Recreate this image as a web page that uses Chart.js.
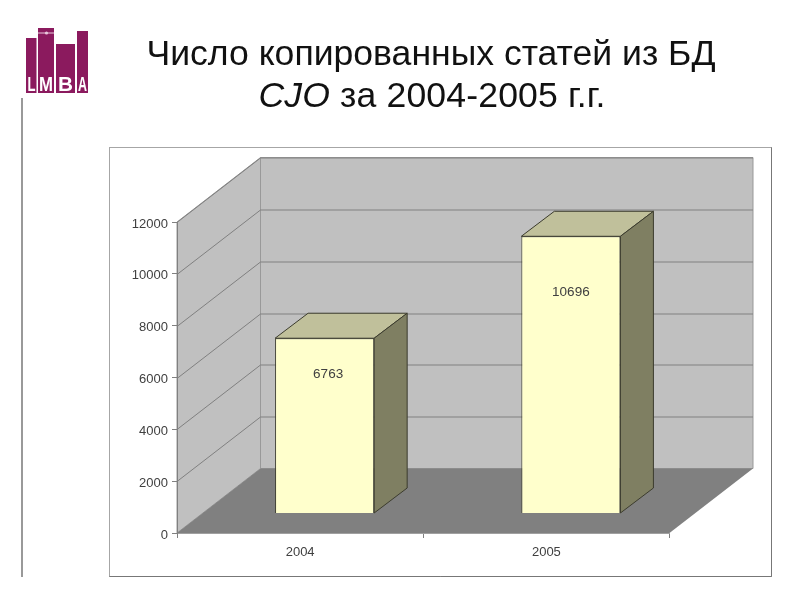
<!DOCTYPE html>
<html lang="ru">
<head>
<meta charset="UTF-8">
<title>Число копированных статей</title>
<script src="https://cdn.jsdelivr.net/npm/chart.js@4"></script>
<style>
    html, body { margin: 0; padding: 0; background: #fff; }
    #page { position: relative; width: 800px; height: 600px; overflow: hidden; }
    #chart { position: absolute; left: 0; top: 0; }
    #title { position: absolute; left: 131px; top: 32px; width: 600px; margin: 0; text-align: center;
             font: normal 35.6px/42px "Liberation Sans", Arial, sans-serif; color: #111; }
    #title span { position: relative; left: 1px; letter-spacing: 0.15px; }
    #rule { position: absolute; left: 21px; top: 98px; width: 2px; height: 479px; background: #999; }
    #logo { position: absolute; left: 0; top: 0; }
</style>
</head>
<body>
<div id="page">
    <canvas id="chart" width="800" height="600"></canvas>
    <h1 id="title">Число копированных статей из БД<br><span><i>CJO</i> за 2004-2005 г.г.</span></h1>
    <div id="rule"></div>
    <svg id="logo" width="100" height="100">
        <g fill="#8b1a5e">
            <rect x="26" y="38" width="10.5" height="55"/>
            <rect x="38" y="28" width="16" height="65"/>
            <rect x="56" y="44" width="19" height="49"/>
            <rect x="77" y="31" width="11" height="62"/>
        </g>
        <rect x="38" y="32.5" width="16" height="1" fill="#e8c8dc"/>
        <circle cx="46.5" cy="33" r="1.6" fill="#e8c8dc"/>
        <g fill="#fff" font-family="Liberation Sans" font-weight="bold" font-size="21">
            <text x="27.5" y="91" textLength="8" lengthAdjust="spacingAndGlyphs">L</text>
            <text x="39" y="91" textLength="14" lengthAdjust="spacingAndGlyphs">M</text>
            <text x="58" y="91" textLength="15" lengthAdjust="spacingAndGlyphs">B</text>
            <text x="78" y="91" textLength="9" lengthAdjust="spacingAndGlyphs">A</text>
        </g>
    </svg>
</div>

<script>
const categories = ['2004', '2005'];
const copiedArticles = [6763, 10696];
const yTicks = [0, 2000, 4000, 6000, 8000, 10000, 12000];

// depth of the fake 3d box, in px
const depthX = 83.5, depthY = -64.5;
const barShiftX = 24.5, barShiftY = -19.5;
const barDepthX = 33, barDepthY = -25;

function poly(ctx, pts, fill, stroke) {
    ctx.beginPath();
    pts.forEach((p, i) => i ? ctx.lineTo(p[0], p[1]) : ctx.moveTo(p[0], p[1]));
    ctx.closePath();
    if (fill) { ctx.fillStyle = fill; ctx.fill(); }
    if (stroke) { ctx.strokeStyle = stroke; ctx.lineWidth = 1; ctx.stroke(); }
}

const box3d = {
    id: 'box3d',
    beforeDraw(chart) {
        const ctx = chart.ctx, a = chart.chartArea, y = chart.scales.y;
        ctx.save();
        // outer frame, darker on the right and bottom
        ctx.strokeStyle = '#a6a6a6';
        ctx.strokeRect(109.5, 147.5, 662, 429);
        ctx.strokeStyle = '#777';
        ctx.beginPath();
        ctx.moveTo(771.5, 147.5);
        ctx.lineTo(771.5, 576.5);
        ctx.lineTo(109.5, 576.5);
        ctx.stroke();
        // walls and floor
        poly(ctx, [[a.left + depthX, a.top + depthY], [a.right + depthX, a.top + depthY],
                   [a.right + depthX, a.bottom + depthY], [a.left + depthX, a.bottom + depthY]], '#c0c0c0', '#999');
        poly(ctx, [[a.left, a.top], [a.left + depthX, a.top + depthY],
                   [a.left + depthX, a.bottom + depthY], [a.left, a.bottom]], '#c0c0c0', '#999');
        poly(ctx, [[a.left, a.bottom], [a.right, a.bottom],
                   [a.right + depthX, a.bottom + depthY], [a.left + depthX, a.bottom + depthY]], '#808080', null);
        // grid lines run along the side wall and across the back wall
        ctx.strokeStyle = '#808080';
        ctx.lineWidth = 1;
        yTicks.slice(1).forEach(v => {
            const py = Math.round(y.getPixelForValue(v)) + 0.5;
            ctx.beginPath();
            ctx.moveTo(a.left, py);
            ctx.lineTo(a.left + depthX, py + depthY);
            ctx.lineTo(a.right + depthX, py + depthY);
            ctx.stroke();
        });
        ctx.restore();
    },
    beforeDatasetDraw(chart, args) {
        const ctx = chart.ctx;
        ctx.save();
        ctx.translate(barShiftX, barShiftY);
        args.meta.data.forEach(bar => {
            const l = bar.x - bar.width / 2, r = bar.x + bar.width / 2;
            poly(ctx, [[l, bar.y], [r, bar.y], [r + barDepthX, bar.y + barDepthY], [l + barDepthX, bar.y + barDepthY]],
                 '#c0c09b', '#3c3c2e');
            poly(ctx, [[r, bar.y], [r + barDepthX, bar.y + barDepthY], [r + barDepthX, bar.base + barDepthY], [r, bar.base]],
                 '#7f7f62', '#3c3c2e');
        });
    },
    afterDatasetDraw(chart, args) {
        const ctx = chart.ctx;
        ctx.restore();
        ctx.save();
        ctx.fillStyle = '#404040';
        ctx.font = '13.5px "Liberation Sans"';
        ctx.textAlign = 'center';
        ctx.textBaseline = 'middle';
        args.meta.data.forEach((bar, i) => {
            const ly = bar.y + (bar.base - bar.y) * 0.2;
            // the 2004 label sits a little right of its bar's centre in the original
            const nudge = i === 0 ? 3.5 : 0;
            ctx.fillText(String(copiedArticles[i]), bar.x + barShiftX + nudge, ly + barShiftY + 1);
        });
        ctx.restore();
    }
};

new Chart(document.getElementById('chart'), {
    type: 'bar',
    plugins: [box3d],
    data: {
        labels: categories,
        datasets: [{
            data: copiedArticles,
            backgroundColor: '#ffffcc',
            borderColor: '#3c3c2e',
            borderWidth: 1,
            categoryPercentage: 0.4024,
            barPercentage: 1
        }]
    },
    options: {
        responsive: false,
        animation: false,
        layout: { padding: { left: 120, right: 130.5, top: 222, bottom: 27 } },
        plugins: { legend: { display: false }, tooltip: { enabled: false }, title: { display: false } },
        scales: {
            x: {
                afterFit: s => { s.height = 40; },
                grid: { drawOnChartArea: false, color: '#808080', tickLength: 5 },
                border: { color: '#a0a0a0' },
                ticks: { color: '#404040', font: { family: 'Liberation Sans', size: 13 }, padding: 7 }
            },
            y: {
                min: 0,
                max: 12000,
                afterFit: s => { s.width = 57; },
                afterBuildTicks: s => { s.ticks = yTicks.map(v => ({ value: v })); },
                grid: { drawOnChartArea: false, color: '#808080', tickLength: 5 },
                border: { color: '#808080' },
                ticks: { color: '#404040', font: { family: 'Liberation Sans', size: 13 }, padding: 4, labelOffset: 2, callback: v => String(v) }
            }
        }
    }
});
</script>
</body>
</html>
